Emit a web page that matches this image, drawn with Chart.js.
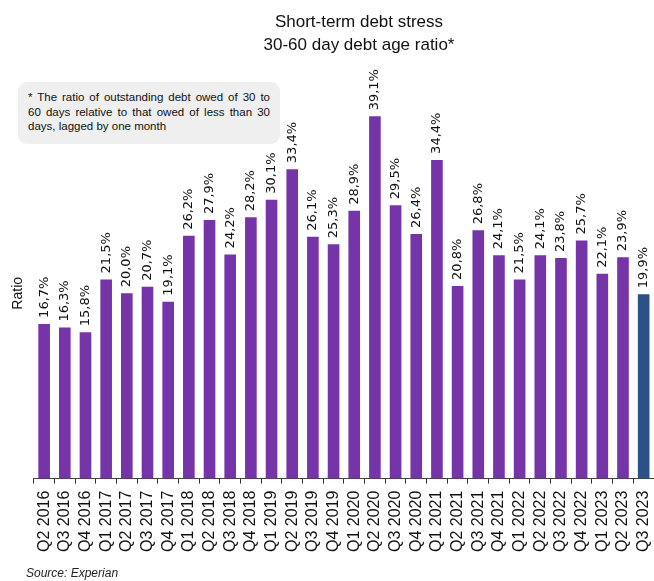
<!DOCTYPE html>
<html>
<head>
<meta charset="utf-8">
<script src="https://cdn.jsdelivr.net/npm/chart.js@4/dist/chart.umd.min.js"></script>
<style>
  html, body { margin: 0; padding: 0; background: #fff; }
  #wrap { position: relative; width: 654px; height: 581px; font-family: "Liberation Sans", Arial, sans-serif; }
  #chart { position: absolute; left: 0; top: 0; }
  #title { position: absolute; left: 229px; top: 10px; width: 260px; text-align: center;
           font-size: 17px; line-height: 23px; color: #111; }
  #note { position: absolute; left: 18px; top: 82px; width: 242px; height: 46px;
          padding: 8px 10px; background: #efefef; border-radius: 9px;
          font-size: 11.5px; line-height: 14.5px; color: #111; text-align: justify; }
  #source { position: absolute; left: 26px; top: 566px; font-size: 12px; font-style: italic; color: #222; }
</style>
</head>
<body>
<div id="wrap">
  <canvas id="chart" width="654" height="581"></canvas>
  <div id="title">Short-term debt stress<br>30-60 day debt age ratio*</div>
  <div id="note">* The ratio of outstanding debt owed of 30 to 60 days relative to that owed of less than 30 days, lagged by one month</div>
  <div id="source">Source: Experian</div>
</div>
<script>
// quarters on the x axis
var quarters = ["Q2 2016","Q3 2016","Q4 2016","Q1 2017","Q2 2017","Q3 2017","Q4 2017",
  "Q1 2018","Q2 2018","Q3 2018","Q4 2018","Q1 2019","Q2 2019","Q3 2019","Q4 2019",
  "Q1 2020","Q2 2020","Q3 2020","Q4 2020","Q1 2021","Q2 2021","Q3 2021","Q4 2021",
  "Q1 2022","Q2 2022","Q3 2022","Q4 2022","Q1 2023","Q2 2023","Q3 2023"];

// debt age ratio, %
var ratio = [16.7,16.3,15.8,21.5,20.0,20.7,19.1,26.2,27.9,24.2,28.2,30.1,33.4,26.1,25.3,
  28.9,39.1,29.5,26.4,34.4,20.8,26.8,24.1,21.5,24.1,23.8,25.7,22.1,23.9,19.9];

var yMax = 40;

var purple = "#7534a8";
var navy = "#2b5287";

// value labels above each bar, written upwards
var barLabels = {
    id: "barLabels",
    afterDatasetsDraw: function(chart) {
        var ctx = chart.ctx;
        var meta = chart.getDatasetMeta(0);
        ctx.save();
        ctx.font = "13px 'DejaVu Sans', Verdana, sans-serif";
        ctx.fillStyle = "#111";
        ctx.textAlign = "left";
        ctx.textBaseline = "middle";
        meta.data.forEach(function(bar, i) {
            var txt = ratio[i].toFixed(1).replace(".", ",") + "%";
            ctx.save();
            ctx.translate(bar.x, bar.y - 6);
            ctx.rotate(-Math.PI / 2);
            ctx.fillText(txt, 0, 0);
            ctx.restore();
        });
        ctx.restore();
    }
};

new Chart(document.getElementById("chart"), {
    type: "bar",
    data: {
        labels: quarters,
        datasets: [{
            data: ratio,
            backgroundColor: function(c) {
                return c.dataIndex === quarters.length - 1 ? navy : purple;
            },
            barPercentage: 0.75,
            categoryPercentage: 0.75
        }]
    },
    options: {
        responsive: false,
        animation: false,
        devicePixelRatio: 1,
        layout: { padding: { top: 108, right: 0, bottom: 22, left: 0 } },
        plugins: {
            legend: { display: false },
            tooltip: { enabled: false }
        },
        scales: {
            x: {
                grid: { display: true, drawOnChartArea: false, drawTicks: true, tickLength: 5, color: "#333", offset: true },
                border: { display: true, color: "#444", width: 1 },
                ticks: {
                    autoSkip: false, minRotation: 90, maxRotation: 90, padding: 7,
                    color: "#111",
                    font: { family: "'Liberation Sans', Arial, sans-serif", size: 16 }
                },
                // let the last bar run up to the right edge like the original
                afterFit: function(scale) {
                    scale.paddingRight = 0;
                    scale.paddingLeft = 0;
                }
            },
            y: {
                min: 0,
                max: yMax,
                grid: { display: false, drawTicks: false },
                border: { display: false },
                ticks: { display: false },
                title: {
                    display: true, text: "Ratio", color: "#111",
                    font: { family: "'Liberation Sans', Arial, sans-serif", size: 14 },
                    padding: { top: 10, bottom: 7 }
                }
            }
        }
    },
    plugins: [barLabels]
});
</script>
</body>
</html>
